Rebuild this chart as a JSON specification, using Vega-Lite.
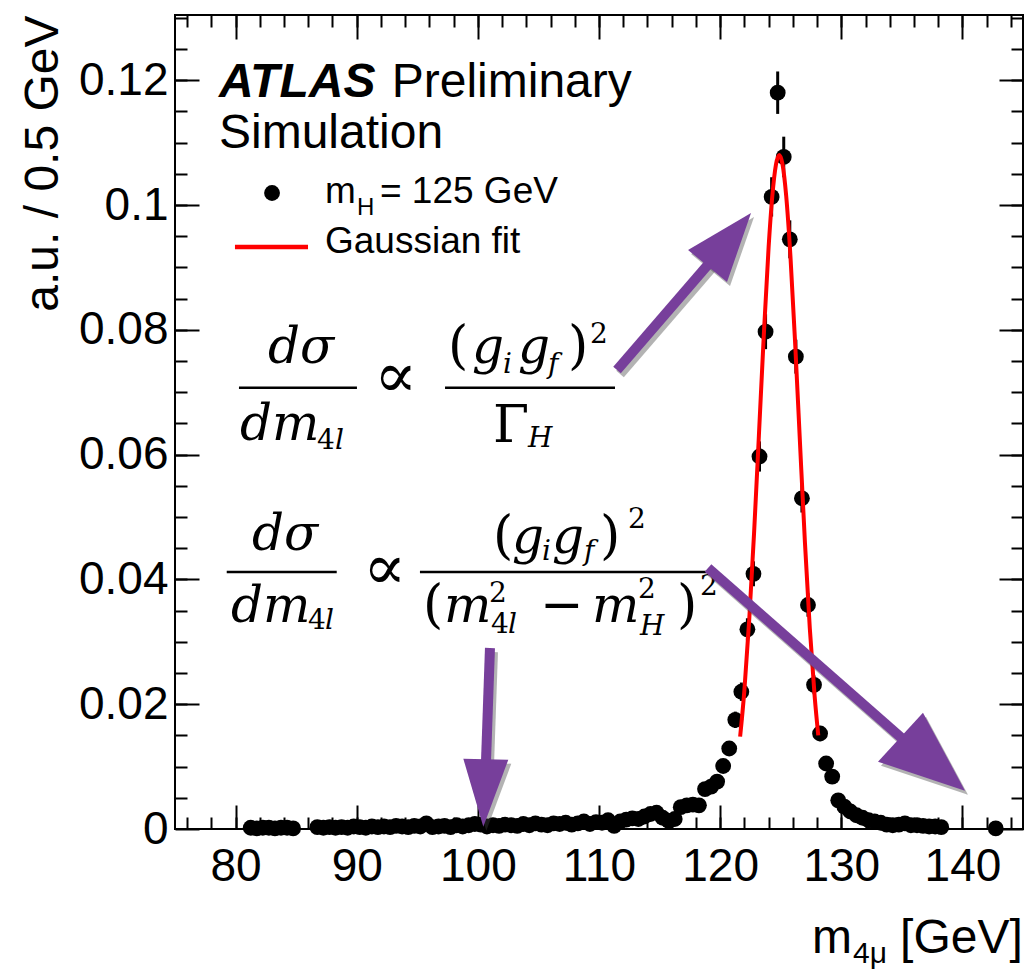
{
  "$schema": "https://vega.github.io/schema/vega-lite/v6.json",
  "width": 848,
  "height": 814,
  "autosize": {"type": "none"},
  "padding": {"left": 175, "top": 15, "right": 6, "bottom": 140},
  "background": "white",
  "config": {
    "view": {"stroke": "black", "strokeWidth": 2},
    "axis": {
      "grid": false,
      "domain": false,
      "tickColor": "black",
      "tickWidth": 2,
      "labelColor": "black",
      "labelFont": "Liberation Sans",
      "labelFontSize": 46,
      "labelFlush": false,
      "labelOverlap": false,
      "titleFont": "Liberation Sans",
      "titleFontSize": 48,
      "titleFontWeight": "normal",
      "titleColor": "black"
    }
  },
  "resolve": {"axis": {"x": "independent", "y": "independent"}},
  "datasets": {
    "pts": [
      {"m": 81.25, "n": 0.0002}, {"m": 81.75, "n": 0.0001}, {"m": 82.25, "n": 0.0002}, {"m": 82.75, "n": 0.0002},
      {"m": 83.25, "n": 0.0001}, {"m": 83.75, "n": 0.0002}, {"m": 84.25, "n": 0.0002}, {"m": 84.75, "n": 0.0001},
      {"m": 86.75, "n": 0.0003}, {"m": 87.25, "n": 0.0002}, {"m": 87.75, "n": 0.0003}, {"m": 88.25, "n": 0.0002},
      {"m": 88.75, "n": 0.0003}, {"m": 89.25, "n": 0.0002}, {"m": 89.75, "n": 0.0004}, {"m": 90.25, "n": 0.0003},
      {"m": 90.75, "n": 0.0002}, {"m": 91.25, "n": 0.0004}, {"m": 91.75, "n": 0.0003}, {"m": 92.25, "n": 0.0004},
      {"m": 92.75, "n": 0.0003}, {"m": 93.25, "n": 0.0005}, {"m": 93.75, "n": 0.0004}, {"m": 94.25, "n": 0.0003},
      {"m": 94.75, "n": 0.0005}, {"m": 95.25, "n": 0.0004}, {"m": 95.75, "n": 0.0009}, {"m": 96.25, "n": 0.0003},
      {"m": 96.75, "n": 0.0004}, {"m": 97.25, "n": 0.0005}, {"m": 97.75, "n": 0.0003}, {"m": 98.25, "n": 0.0006},
      {"m": 98.75, "n": 0.0004}, {"m": 99.25, "n": 0.0006}, {"m": 99.75, "n": 0.0008}, {"m": 100.25, "n": 0.0007},
      {"m": 100.75, "n": 0.0004}, {"m": 101.25, "n": 0.0006}, {"m": 101.75, "n": 0.0005}, {"m": 102.25, "n": 0.0007},
      {"m": 102.75, "n": 0.0006}, {"m": 103.25, "n": 0.0005}, {"m": 103.75, "n": 0.0008}, {"m": 104.25, "n": 0.0006},
      {"m": 104.75, "n": 0.0009}, {"m": 105.25, "n": 0.0007}, {"m": 105.75, "n": 0.0006}, {"m": 106.25, "n": 0.0009},
      {"m": 106.75, "n": 0.0008}, {"m": 107.25, "n": 0.0010}, {"m": 107.75, "n": 0.0007}, {"m": 108.25, "n": 0.0009},
      {"m": 108.75, "n": 0.0012}, {"m": 109.25, "n": 0.0008}, {"m": 109.75, "n": 0.0011}, {"m": 110.25, "n": 0.0010},
      {"m": 110.75, "n": 0.0014}, {"m": 111.25, "n": 0.0005}, {"m": 111.75, "n": 0.0012}, {"m": 112.25, "n": 0.0015},
      {"m": 112.75, "n": 0.0017}, {"m": 113.25, "n": 0.0016}, {"m": 113.75, "n": 0.0020}, {"m": 114.25, "n": 0.0024},
      {"m": 114.75, "n": 0.0026}, {"m": 115.25, "n": 0.0018}, {"m": 115.75, "n": 0.0013}, {"m": 116.25, "n": 0.0016},
      {"m": 116.75, "n": 0.0035}, {"m": 117.25, "n": 0.0038}, {"m": 117.75, "n": 0.0039}, {"m": 118.25, "n": 0.0038},
      {"m": 118.75, "n": 0.0064}, {"m": 119.25, "n": 0.0068}, {"m": 119.75, "n": 0.0076}, {"m": 120.25, "n": 0.0101},
      {"m": 120.75, "n": 0.0129}, {"m": 121.25, "n": 0.0175}, {"m": 121.75, "n": 0.0220}, {"m": 122.25, "n": 0.0320},
      {"m": 122.75, "n": 0.0409}, {"m": 123.25, "n": 0.0597}, {"m": 123.75, "n": 0.0797}, {"m": 124.25, "n": 0.1013},
      {"m": 124.75, "n": 0.1180}, {"m": 125.25, "n": 0.1077}, {"m": 125.75, "n": 0.0945}, {"m": 126.25, "n": 0.0757},
      {"m": 126.75, "n": 0.0530}, {"m": 127.25, "n": 0.0359}, {"m": 127.75, "n": 0.0231}, {"m": 128.25, "n": 0.0153},
      {"m": 128.75, "n": 0.0105}, {"m": 129.25, "n": 0.0084}, {"m": 129.75, "n": 0.0046}, {"m": 130.25, "n": 0.0036},
      {"m": 130.75, "n": 0.0028}, {"m": 131.25, "n": 0.0022}, {"m": 131.75, "n": 0.0018}, {"m": 132.25, "n": 0.0014},
      {"m": 132.75, "n": 0.0012}, {"m": 133.25, "n": 0.0010}, {"m": 133.75, "n": 0.0007}, {"m": 134.25, "n": 0.0006},
      {"m": 134.75, "n": 0.0007}, {"m": 135.25, "n": 0.0009}, {"m": 135.75, "n": 0.0006}, {"m": 136.25, "n": 0.0006},
      {"m": 136.75, "n": 0.0005}, {"m": 137.25, "n": 0.0004}, {"m": 137.75, "n": 0.0004}, {"m": 138.25, "n": 0.0003},
      {"m": 142.75, "n": 0.0001}
    ],
    "errs": [
      {"m": 121.25, "lo": 0.01619, "hi": 0.01881}, {"m": 121.75, "lo": 0.02053, "hi": 0.02347},
      {"m": 122.25, "lo": 0.03023, "hi": 0.03377}, {"m": 122.75, "lo": 0.0389, "hi": 0.0429},
      {"m": 123.25, "lo": 0.05728, "hi": 0.06212}, {"m": 123.75, "lo": 0.0769, "hi": 0.0825},
      {"m": 124.25, "lo": 0.09815, "hi": 0.10445}, {"m": 124.75, "lo": 0.1146, "hi": 0.1214},
      {"m": 125.25, "lo": 0.10445, "hi": 0.11095}, {"m": 125.75, "lo": 0.09146, "hi": 0.09754},
      {"m": 126.25, "lo": 0.07298, "hi": 0.07842}, {"m": 126.75, "lo": 0.05072, "hi": 0.05528},
      {"m": 127.25, "lo": 0.03402, "hi": 0.03778}, {"m": 127.75, "lo": 0.0216, "hi": 0.0246},
      {"m": 128.25, "lo": 0.01408, "hi": 0.01652}
    ],
    "fit": [
      {"x": 121.65, "y": 0.0148}, {"x": 122.0, "y": 0.0222}, {"x": 122.4, "y": 0.0335}, {"x": 122.8, "y": 0.0474},
      {"x": 123.2, "y": 0.0631}, {"x": 123.6, "y": 0.0790}, {"x": 124.0, "y": 0.0932}, {"x": 124.3, "y": 0.1013},
      {"x": 124.6, "y": 0.1064}, {"x": 124.88, "y": 0.1080}, {"x": 125.15, "y": 0.1065}, {"x": 125.45, "y": 0.1015},
      {"x": 125.8, "y": 0.0919}, {"x": 126.2, "y": 0.0775}, {"x": 126.6, "y": 0.0615}, {"x": 127.0, "y": 0.0459},
      {"x": 127.4, "y": 0.0322}, {"x": 127.8, "y": 0.0213}, {"x": 128.1, "y": 0.0150}
    ],
    "legDot": [{"x": 83.01, "y": 0.10192}],
    "legLine": [{"x": 79.95, "x2": 85.98, "y": 0.09327}],
    "atlas": [{"x": 78.63, "y": 0.11731, "t": "ATLAS"}],
    "sans": [
      {"x": 92.89, "y": 0.11731, "t": "Preliminary"},
      {"x": 78.63, "y": 0.10909, "t": "Simulation"},
      {"x": 127.58, "y": -0.01987, "t": "m"},
      {"x": 134.85, "y": -0.01987, "t": "[GeV]"}
    ],
    "legText": [
      {"x": 87.38, "y": 0.10027, "t": "m"},
      {"x": 91.92, "y": 0.10027, "t": "= 125 GeV"},
      {"x": 87.38, "y": 0.09226, "t": "Gaussian fit"}
    ],
    "legSub": [{"x": 90.02, "y": 0.0984, "t": "H"}],
    "titleSub": [{"x": 130.97, "y": -0.02147, "t": "4μ"}],
    "mIt": [
      {"x": 82.68, "y": 0.07468, "t": "dσ"},
      {"x": 80.37, "y": 0.06234, "t": "dm"},
      {"x": 99.52, "y": 0.07468, "t": "g"},
      {"x": 103.31, "y": 0.07468, "t": "g"},
      {"x": 81.36, "y": 0.04471, "t": "dσ"},
      {"x": 79.62, "y": 0.03322, "t": "dm"},
      {"x": 102.82, "y": 0.04423, "t": "g"},
      {"x": 106.12, "y": 0.04423, "t": "g"},
      {"x": 97.21, "y": 0.03322, "t": "m"},
      {"x": 109.42, "y": 0.03322, "t": "m"}
    ],
    "mItS": [
      {"x": 88.21, "y": 0.0609, "t": "l"},
      {"x": 102.08, "y": 0.07308, "t": "i"},
      {"x": 105.79, "y": 0.07308, "t": "f"},
      {"x": 104.14, "y": 0.06122, "t": "H"},
      {"x": 87.38, "y": 0.03205, "t": "l"},
      {"x": 105.3, "y": 0.04311, "t": "i"},
      {"x": 108.76, "y": 0.04311, "t": "f"},
      {"x": 102.49, "y": 0.03141, "t": "l"},
      {"x": 113.39, "y": 0.03109, "t": "H"}
    ],
    "mProp": [
      {"x": 91.43, "y": 0.06923, "t": "∝"},
      {"x": 90.52, "y": 0.03846, "t": "∝"}
    ],
    "mUp": [
      {"x": 97.54, "y": 0.07468, "t": "("},
      {"x": 107.44, "y": 0.07468, "t": ")"},
      {"x": 101.25, "y": 0.06207, "t": "Γ"},
      {"x": 101.25, "y": 0.04423, "t": "("},
      {"x": 110.08, "y": 0.04423, "t": ")"},
      {"x": 95.47, "y": 0.03322, "t": "("},
      {"x": 105.13, "y": 0.03322, "t": "−"},
      {"x": 116.44, "y": 0.03322, "t": ")"}
    ],
    "mUpS": [
      {"x": 86.72, "y": 0.0609, "t": "4"},
      {"x": 109.26, "y": 0.07788, "t": "2"},
      {"x": 85.98, "y": 0.03205, "t": "4"},
      {"x": 112.39, "y": 0.04819, "t": "2"},
      {"x": 100.92, "y": 0.03643, "t": "2"},
      {"x": 101.09, "y": 0.03141, "t": "4"},
      {"x": 113.22, "y": 0.03702, "t": "2"},
      {"x": 118.34, "y": 0.0375, "t": "2"}
    ],
    "bars": [
      {"x": 80.28, "x2": 90.02, "y": 0.07072},
      {"x": 97.29, "x2": 111.32, "y": 0.07072},
      {"x": 79.27, "x2": 88.35, "y": 0.04119},
      {"x": 95.22, "x2": 119.16, "y": 0.04119}
    ],
    "shafts": [
      {"x": 111.49, "y": 0.07356, "x2": 119.33, "y2": 0.09119},
      {"x": 119.0, "y": 0.04183, "x2": 135.26, "y2": 0.0141},
      {"x": 101.0, "y": 0.02901, "x2": 100.67, "y2": 0.01074}
    ],
    "head1": [{"x": 122.55, "y": 0.09872}],
    "head2": [{"x": 140.21, "y": 0.00614}],
    "head3": [{"x": 100.45, "y": 0.00037}]
  },
  "layer": [
    {
      "data": {"name": "pts"},
      "mark": {"type": "point", "filled": true, "size": 250, "color": "black", "opacity": 1, "strokeWidth": 0},
      "encoding": {
        "x": {"field": "m", "type": "quantitative", "scale": {"domain": [75, 145], "nice": false, "zero": false},
          "axis": {"orient": "bottom", "values": [80, 90, 100, 110, 120, 130, 140], "ticks": false, "labelPadding": 15, "title": null}},
        "y": {"field": "n", "type": "quantitative", "scale": {"domain": [0, 0.13045], "nice": false, "zero": false},
          "axis": {"orient": "left", "values": [0, 0.02, 0.04, 0.06, 0.08, 0.1, 0.12], "ticks": false, "format": "~g", "labelPadding": 7,
            "title": "a.u. / 0.5 GeV", "titleAngle": -90, "titleAlign": "right", "titleBaseline": "alphabetic", "titleX": -118, "titleY": 0}}
      }
    },
    {
      "data": {"name": "errs"},
      "mark": {"type": "rule", "color": "black", "strokeWidth": 3},
      "encoding": {
        "x": {"field": "m", "type": "quantitative", "scale": {"domain": [75, 145], "nice": false, "zero": false},
          "axis": {"orient": "bottom", "values": [80, 90, 100, 110, 120, 130, 140], "labels": false, "tickSize": -24, "title": null}},
        "y": {"field": "lo", "type": "quantitative", "scale": {"domain": [0, 0.13045], "nice": false, "zero": false},
          "axis": {"orient": "left", "values": [0, 0.02, 0.04, 0.06, 0.08, 0.1, 0.12], "labels": false, "tickSize": -24, "title": null}},
        "y2": {"field": "hi"}
      }
    },
    {
      "data": {"name": "fit"},
      "mark": {"type": "line", "color": "#ff0000", "strokeWidth": 4, "interpolate": "monotone"},
      "encoding": {
        "x": {"field": "x", "type": "quantitative", "scale": {"domain": [75, 145], "nice": false, "zero": false},
          "axis": {"orient": "top", "values": [80, 90, 100, 110, 120, 130, 140], "labels": false, "tickSize": -24, "title": null}},
        "y": {"field": "y", "type": "quantitative", "scale": {"domain": [0, 0.13045], "nice": false, "zero": false},
          "axis": {"orient": "right", "values": [0, 0.02, 0.04, 0.06, 0.08, 0.1, 0.12], "labels": false, "tickSize": -24, "title": null}}
      }
    },
    {
      "data": {"name": "legDot"},
      "mark": {"type": "point", "filled": true, "size": 250, "color": "black", "opacity": 1, "strokeWidth": 0},
      "encoding": {
        "x": {"field": "x", "type": "quantitative", "scale": {"domain": [75, 145], "nice": false, "zero": false},
          "axis": {"orient": "bottom", "values": [76, 78, 80, 82, 84, 86, 88, 90, 92, 94, 96, 98, 100, 102, 104, 106, 108, 110, 112, 114, 116, 118, 120, 122, 124, 126, 128, 130, 132, 134, 136, 138, 140, 142, 144], "labels": false, "tickSize": -12, "title": null}},
        "y": {"field": "y", "type": "quantitative", "scale": {"domain": [0, 0.13045], "nice": false, "zero": false},
          "axis": {"orient": "left", "values": [0.005, 0.01, 0.015, 0.02, 0.025, 0.03, 0.035, 0.04, 0.045, 0.05, 0.055, 0.06, 0.065, 0.07, 0.075, 0.08, 0.085, 0.09, 0.095, 0.1, 0.105, 0.11, 0.115, 0.12, 0.125, 0.13], "labels": false, "tickSize": -12, "title": null}}
      }
    },
    {
      "data": {"name": "legLine"},
      "mark": {"type": "rule", "color": "#ff0000", "strokeWidth": 4.5},
      "encoding": {
        "x": {"field": "x", "type": "quantitative", "scale": {"domain": [75, 145], "nice": false, "zero": false},
          "axis": {"orient": "top", "values": [76, 78, 80, 82, 84, 86, 88, 90, 92, 94, 96, 98, 100, 102, 104, 106, 108, 110, 112, 114, 116, 118, 120, 122, 124, 126, 128, 130, 132, 134, 136, 138, 140, 142, 144], "labels": false, "tickSize": -12, "title": null}},
        "x2": {"field": "x2"},
        "y": {"field": "y", "type": "quantitative", "scale": {"domain": [0, 0.13045], "nice": false, "zero": false},
          "axis": {"orient": "right", "values": [0.005, 0.01, 0.015, 0.02, 0.025, 0.03, 0.035, 0.04, 0.045, 0.05, 0.055, 0.06, 0.065, 0.07, 0.075, 0.08, 0.085, 0.09, 0.095, 0.1, 0.105, 0.11, 0.115, 0.12, 0.125, 0.13], "labels": false, "tickSize": -12, "title": null}}
      }
    },
    {
      "data": {"name": "atlas"},
      "mark": {"type": "text", "font": "Liberation Sans", "fontSize": 48, "fontWeight": "bold", "fontStyle": "italic", "align": "left", "baseline": "alphabetic", "color": "black"},
      "encoding": {
        "x": {"field": "x", "type": "quantitative", "scale": {"domain": [75, 145], "nice": false, "zero": false}, "axis": null},
        "y": {"field": "y", "type": "quantitative", "scale": {"domain": [0, 0.13045], "nice": false, "zero": false}, "axis": null},
        "text": {"field": "t"}
      }
    },
    {
      "data": {"name": "sans"},
      "mark": {"type": "text", "font": "Liberation Sans", "fontSize": 48, "align": "left", "baseline": "alphabetic", "color": "black"},
      "encoding": {
        "x": {"field": "x", "type": "quantitative", "scale": {"domain": [75, 145], "nice": false, "zero": false}, "axis": null},
        "y": {"field": "y", "type": "quantitative", "scale": {"domain": [0, 0.13045], "nice": false, "zero": false}, "axis": null},
        "text": {"field": "t"}
      }
    },
    {
      "data": {"name": "legText"},
      "mark": {"type": "text", "font": "Liberation Sans", "fontSize": 37, "align": "left", "baseline": "alphabetic", "color": "black"},
      "encoding": {
        "x": {"field": "x", "type": "quantitative", "scale": {"domain": [75, 145], "nice": false, "zero": false}, "axis": null},
        "y": {"field": "y", "type": "quantitative", "scale": {"domain": [0, 0.13045], "nice": false, "zero": false}, "axis": null},
        "text": {"field": "t"}
      }
    },
    {
      "data": {"name": "legSub"},
      "mark": {"type": "text", "font": "Liberation Sans", "fontSize": 24, "align": "left", "baseline": "alphabetic", "color": "black"},
      "encoding": {
        "x": {"field": "x", "type": "quantitative", "scale": {"domain": [75, 145], "nice": false, "zero": false}, "axis": null},
        "y": {"field": "y", "type": "quantitative", "scale": {"domain": [0, 0.13045], "nice": false, "zero": false}, "axis": null},
        "text": {"field": "t"}
      }
    },
    {
      "data": {"name": "titleSub"},
      "mark": {"type": "text", "font": "Liberation Sans", "fontSize": 30, "align": "left", "baseline": "alphabetic", "color": "black"},
      "encoding": {
        "x": {"field": "x", "type": "quantitative", "scale": {"domain": [75, 145], "nice": false, "zero": false}, "axis": null},
        "y": {"field": "y", "type": "quantitative", "scale": {"domain": [0, 0.13045], "nice": false, "zero": false}, "axis": null},
        "text": {"field": "t"}
      }
    },
    {
      "data": {"name": "mIt"},
      "mark": {"type": "text", "font": "DejaVu Serif", "fontSize": 50, "fontStyle": "italic", "align": "left", "baseline": "alphabetic", "color": "black"},
      "encoding": {
        "x": {"field": "x", "type": "quantitative", "scale": {"domain": [75, 145], "nice": false, "zero": false}, "axis": null},
        "y": {"field": "y", "type": "quantitative", "scale": {"domain": [0, 0.13045], "nice": false, "zero": false}, "axis": null},
        "text": {"field": "t"}
      }
    },
    {
      "data": {"name": "mItS"},
      "mark": {"type": "text", "font": "DejaVu Serif", "fontSize": 28, "fontStyle": "italic", "align": "left", "baseline": "alphabetic", "color": "black"},
      "encoding": {
        "x": {"field": "x", "type": "quantitative", "scale": {"domain": [75, 145], "nice": false, "zero": false}, "axis": null},
        "y": {"field": "y", "type": "quantitative", "scale": {"domain": [0, 0.13045], "nice": false, "zero": false}, "axis": null},
        "text": {"field": "t"}
      }
    },
    {
      "data": {"name": "mProp"},
      "mark": {"type": "text", "font": "DejaVu Serif", "fontSize": 64, "align": "left", "baseline": "alphabetic", "color": "black"},
      "encoding": {
        "x": {"field": "x", "type": "quantitative", "scale": {"domain": [75, 145], "nice": false, "zero": false}, "axis": null},
        "y": {"field": "y", "type": "quantitative", "scale": {"domain": [0, 0.13045], "nice": false, "zero": false}, "axis": null},
        "text": {"field": "t"}
      }
    },
    {
      "data": {"name": "mUp"},
      "mark": {"type": "text", "font": "DejaVu Serif", "fontSize": 52, "align": "left", "baseline": "alphabetic", "color": "black"},
      "encoding": {
        "x": {"field": "x", "type": "quantitative", "scale": {"domain": [75, 145], "nice": false, "zero": false}, "axis": null},
        "y": {"field": "y", "type": "quantitative", "scale": {"domain": [0, 0.13045], "nice": false, "zero": false}, "axis": null},
        "text": {"field": "t"}
      }
    },
    {
      "data": {"name": "mUpS"},
      "mark": {"type": "text", "font": "DejaVu Serif", "fontSize": 28, "align": "left", "baseline": "alphabetic", "color": "black"},
      "encoding": {
        "x": {"field": "x", "type": "quantitative", "scale": {"domain": [75, 145], "nice": false, "zero": false}, "axis": null},
        "y": {"field": "y", "type": "quantitative", "scale": {"domain": [0, 0.13045], "nice": false, "zero": false}, "axis": null},
        "text": {"field": "t"}
      }
    },
    {
      "data": {"name": "bars"},
      "mark": {"type": "rule", "color": "black", "strokeWidth": 2.5},
      "encoding": {
        "x": {"field": "x", "type": "quantitative", "scale": {"domain": [75, 145], "nice": false, "zero": false}, "axis": null},
        "x2": {"field": "x2"},
        "y": {"field": "y", "type": "quantitative", "scale": {"domain": [0, 0.13045], "nice": false, "zero": false}, "axis": null}
      }
    },
    {
      "data": {"name": "shafts"},
      "mark": {"type": "rule", "color": "#404040", "opacity": 0.4, "strokeWidth": 10, "strokeCap": "butt", "xOffset": 3, "x2Offset": 3, "yOffset": 4, "y2Offset": 4},
      "encoding": {
        "x": {"field": "x", "type": "quantitative", "scale": {"domain": [75, 145], "nice": false, "zero": false}, "axis": null},
        "x2": {"field": "x2"},
        "y": {"field": "y", "type": "quantitative", "scale": {"domain": [0, 0.13045], "nice": false, "zero": false}, "axis": null},
        "y2": {"field": "y2"}
      }
    },
    {
      "data": {"name": "head1"},
      "mark": {"type": "point", "shape": "M0,0L-63,37L-24,69Z", "size": 4, "filled": true, "color": "#404040", "opacity": 0.4, "strokeWidth": 0, "xOffset": 3, "yOffset": 4},
      "encoding": {
        "x": {"field": "x", "type": "quantitative", "scale": {"domain": [75, 145], "nice": false, "zero": false}, "axis": null},
        "y": {"field": "y", "type": "quantitative", "scale": {"domain": [0, 0.13045], "nice": false, "zero": false}, "axis": null}
      }
    },
    {
      "data": {"name": "head2"},
      "mark": {"type": "point", "shape": "M0,0L-87,-29L-42,-78Z", "size": 4, "filled": true, "color": "#404040", "opacity": 0.4, "strokeWidth": 0, "xOffset": 3, "yOffset": 4},
      "encoding": {
        "x": {"field": "x", "type": "quantitative", "scale": {"domain": [75, 145], "nice": false, "zero": false}, "axis": null},
        "y": {"field": "y", "type": "quantitative", "scale": {"domain": [0, 0.13045], "nice": false, "zero": false}, "axis": null}
      }
    },
    {
      "data": {"name": "head3"},
      "mark": {"type": "point", "shape": "M0,0L-20,-68L25,-67Z", "size": 4, "filled": true, "color": "#404040", "opacity": 0.4, "strokeWidth": 0, "xOffset": 3, "yOffset": 4},
      "encoding": {
        "x": {"field": "x", "type": "quantitative", "scale": {"domain": [75, 145], "nice": false, "zero": false}, "axis": null},
        "y": {"field": "y", "type": "quantitative", "scale": {"domain": [0, 0.13045], "nice": false, "zero": false}, "axis": null}
      }
    },
    {
      "data": {"name": "shafts"},
      "mark": {"type": "rule", "color": "#773f9b", "strokeWidth": 10, "strokeCap": "butt"},
      "encoding": {
        "x": {"field": "x", "type": "quantitative", "scale": {"domain": [75, 145], "nice": false, "zero": false}, "axis": null},
        "x2": {"field": "x2"},
        "y": {"field": "y", "type": "quantitative", "scale": {"domain": [0, 0.13045], "nice": false, "zero": false}, "axis": null},
        "y2": {"field": "y2"}
      }
    },
    {
      "data": {"name": "head1"},
      "mark": {"type": "point", "shape": "M0,0L-63,37L-24,69Z", "size": 4, "filled": true, "color": "#773f9b", "opacity": 1, "strokeWidth": 0},
      "encoding": {
        "x": {"field": "x", "type": "quantitative", "scale": {"domain": [75, 145], "nice": false, "zero": false}, "axis": null},
        "y": {"field": "y", "type": "quantitative", "scale": {"domain": [0, 0.13045], "nice": false, "zero": false}, "axis": null}
      }
    },
    {
      "data": {"name": "head2"},
      "mark": {"type": "point", "shape": "M0,0L-87,-29L-42,-78Z", "size": 4, "filled": true, "color": "#773f9b", "opacity": 1, "strokeWidth": 0},
      "encoding": {
        "x": {"field": "x", "type": "quantitative", "scale": {"domain": [75, 145], "nice": false, "zero": false}, "axis": null},
        "y": {"field": "y", "type": "quantitative", "scale": {"domain": [0, 0.13045], "nice": false, "zero": false}, "axis": null}
      }
    },
    {
      "data": {"name": "head3"},
      "mark": {"type": "point", "shape": "M0,0L-20,-68L25,-67Z", "size": 4, "filled": true, "color": "#773f9b", "opacity": 1, "strokeWidth": 0},
      "encoding": {
        "x": {"field": "x", "type": "quantitative", "scale": {"domain": [75, 145], "nice": false, "zero": false}, "axis": null},
        "y": {"field": "y", "type": "quantitative", "scale": {"domain": [0, 0.13045], "nice": false, "zero": false}, "axis": null}
      }
    }
  ]
}
